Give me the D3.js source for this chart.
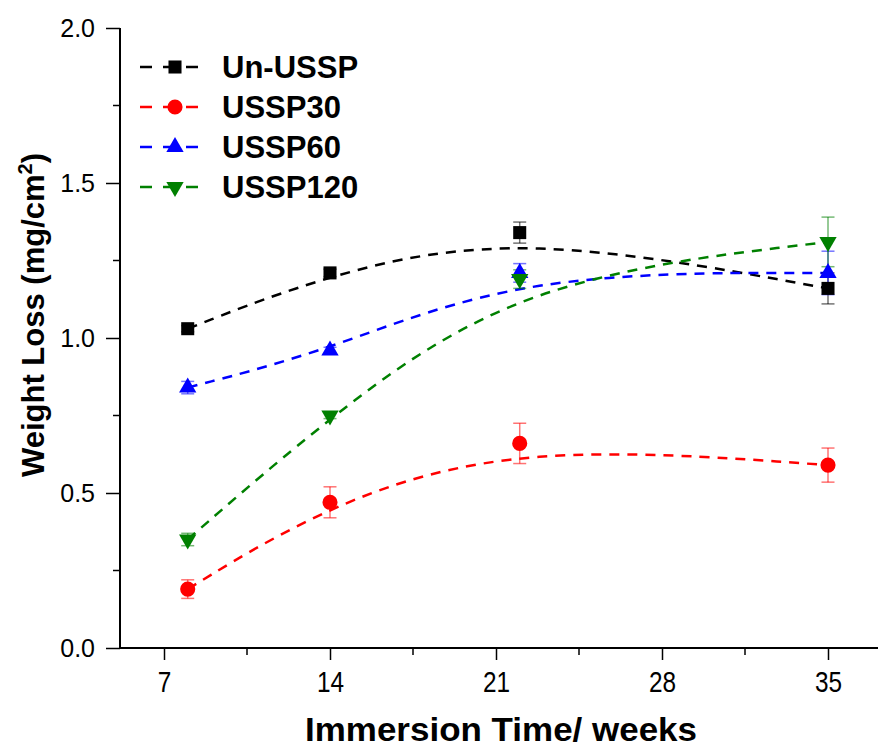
<!DOCTYPE html>
<html>
<head>
<meta charset="utf-8">
<script src="https://cdn.jsdelivr.net/npm/d3@7"></script>
<style>
  html, body { margin: 0; padding: 0; background: #fff; }
  svg { display: block; font-family: "Liberation Sans", Arial, sans-serif; }
</style>
</head>
<body>
<svg id="chart" width="879" height="749"></svg>
<script>
// Immersion time (weeks) at which each sample set was weighed
const weeks = [8, 14, 22, 35];

// Mean weight loss (mg/cm²) and standard deviation per series
const unUSSP     = [1.03, 1.21, 1.34, 1.16];
const unUSSPErr  = [0.01, 0.012, 0.034, 0.05];
const ussp30     = [0.19, 0.47, 0.66, 0.59];
const ussp30Err  = [0.03, 0.05, 0.065, 0.055];
const ussp60     = [0.84, 0.96, 1.21, 1.21];
const ussp60Err  = [0.02, 0.01, 0.03, 0.07];
const ussp120    = [0.35, 0.75, 1.19, 1.31];
const ussp120Err = [0.02, 0.01, 0.03, 0.08];

const seriesNames = ["Un-USSP", "USSP30", "USSP60", "USSP120"];
const seriesColors = ["#000000", "#ff0000", "#0000ff", "#008000"];
const seriesShapes = ["square", "circle", "triangle-up", "triangle-down"];

const xTicks = [7, 14, 21, 28, 35];
const yTicks = [0, 0.5, 1.0, 1.5, 2.0];

const series = seriesNames.map((name, i) => ({
  name,
  color: seriesColors[i],
  shape: seriesShapes[i],
  values: [unUSSP, ussp30, ussp60, ussp120][i],
  errors: [unUSSPErr, ussp30Err, ussp60Err, ussp120Err][i]
}));

const svg = d3.select("#chart");

const plotLeft = 120, plotRight = 878, plotTop = 28, plotBottom = 648;
const x = d3.scaleLinear().domain([7, 35]).range([164, 828]);
const y = d3.scaleLinear().domain([0, 2]).range([plotBottom, plotTop]);

// ---- axes ----
const axisG = svg.append("g");

// x axis: line spans the full plot width
axisG.append("line")
  .attr("x1", plotLeft - 1).attr("x2", plotRight).attr("y1", plotBottom).attr("y2", plotBottom)
  .attr("stroke", "#000").attr("stroke-width", 2);
const xMinor = d3.range(10.5, 36, 7);
axisG.selectAll(".xminor").data(xMinor).join("line")
  .attr("x1", d => x(d)).attr("x2", d => x(d))
  .attr("y1", plotBottom).attr("y2", plotBottom + 7)
  .attr("stroke", "#000").attr("stroke-width", 1.5);
const xAxis = d3.axisBottom(x).tickValues(xTicks).tickSize(12).tickSizeOuter(0).tickPadding(6);
const gx = axisG.append("g").attr("transform", `translate(0,${plotBottom})`).call(xAxis);
gx.select(".domain").remove();
gx.selectAll(".tick line").attr("stroke-width", 1.5);
gx.selectAll(".tick text")
  .attr("font-size", 29)
  .attr("font-family", "'Liberation Sans Narrow', 'Liberation Sans', Arial, sans-serif")
  .attr("fill", "#000")
  .attr("y", 0)
  .attr("dy", 0)
  .attr("transform", "translate(0,44) scale(0.84,1)");

// y axis
axisG.append("line")
  .attr("x1", plotLeft).attr("x2", plotLeft).attr("y1", plotTop).attr("y2", plotBottom + 1)
  .attr("stroke", "#000").attr("stroke-width", 2);
const yMinor = d3.range(0.25, 2, 0.5);
axisG.selectAll(".yminor").data(yMinor).join("line")
  .attr("x1", plotLeft - 7).attr("x2", plotLeft)
  .attr("y1", d => y(d)).attr("y2", d => y(d))
  .attr("stroke", "#000").attr("stroke-width", 1.5);
const yAxis = d3.axisLeft(y).tickValues(yTicks).tickSize(14).tickSizeOuter(0).tickPadding(11)
  .tickFormat(d3.format(".1f"));
const gy = axisG.append("g").attr("transform", `translate(${plotLeft},0)`).call(yAxis);
gy.select(".domain").remove();
gy.selectAll(".tick line").attr("stroke-width", 1.5);
gy.selectAll(".tick text").attr("font-size", 25).attr("fill", "#000");

// axis titles
svg.append("text")
  .attr("transform", "translate(501,741) scale(1.06,1)")
  .attr("text-anchor", "middle")
  .attr("font-size", 33).attr("font-weight", "bold")
  .text("Immersion Time/ weeks");

const yTitle = svg.append("text")
  .attr("transform", "translate(44,315) rotate(-90)")
  .attr("text-anchor", "middle")
  .attr("font-size", 31).attr("font-weight", "bold");
yTitle.append("tspan").text("Weight Loss (mg/cm");
yTitle.append("tspan").attr("font-size", 20).attr("dy", -12).text("2");
yTitle.append("tspan").attr("dy", 12).text(")");

// ---- marks ----
function symbolPath(shape) {
  if (shape === "square") return d3.symbol(d3.symbolSquare, 170)();
  if (shape === "circle") return d3.symbol(d3.symbolCircle, 180)();
  return d3.symbol(d3.symbolTriangle, 130)();
}
function symbolTransform(shape, px, py) {
  return shape === "triangle-down"
    ? `translate(${px},${py}) rotate(180)`
    : `translate(${px},${py})`;
}

const line = d3.line()
  .x(d => x(d.w)).y(d => y(d.v))
  .curve(d3.curveBasis);

// B-spline trend lines
series.forEach(s => {
  const pts = weeks.map((w, i) => ({ w, v: s.values[i] }));
  svg.append("path")
    .attr("d", line(pts))
    .attr("fill", "none")
    .attr("stroke", s.color)
    .attr("stroke-width", 2.5)
    .attr("stroke-dasharray", "10,8");
});

// error bars
series.forEach(s => {
  const g = svg.append("g")
    .attr("stroke", s.color).attr("stroke-width", 1.5).attr("stroke-opacity", 0.55);
  weeks.forEach((w, i) => {
    const px = x(w), hi = y(s.values[i] + s.errors[i]), lo = y(s.values[i] - s.errors[i]);
    g.append("line").attr("x1", px).attr("x2", px).attr("y1", hi).attr("y2", lo);
    g.append("line").attr("x1", px - 6.5).attr("x2", px + 6.5).attr("y1", hi).attr("y2", hi);
    g.append("line").attr("x1", px - 6.5).attr("x2", px + 6.5).attr("y1", lo).attr("y2", lo);
  });
});

// markers
series.forEach(s => {
  svg.append("g").selectAll("path").data(weeks).join("path")
    .attr("d", symbolPath(s.shape))
    .attr("transform", (w, i) => symbolTransform(s.shape, x(w), y(s.values[i])))
    .attr("fill", s.color);
});

// ---- legend ----
const legend = svg.append("g");
const rowY = [67, 107, 147, 187];
series.forEach((s, i) => {
  const ly = rowY[i];
  legend.append("line")
    .attr("x1", 140).attr("x2", 200).attr("y1", ly).attr("y2", ly)
    .attr("stroke", s.color).attr("stroke-width", 2.5)
    .attr("stroke-dasharray", "12,11");
  legend.append("path")
    .attr("d", symbolPath(s.shape))
    .attr("transform", symbolTransform(s.shape, 175, ly))
    .attr("fill", s.color);
  legend.append("text")
    .attr("x", 222).attr("y", ly)
    .attr("dy", "0.36em")
    .attr("font-size", 31).attr("font-weight", "bold")
    .text(s.name);
});
</script>
</body>
</html>
